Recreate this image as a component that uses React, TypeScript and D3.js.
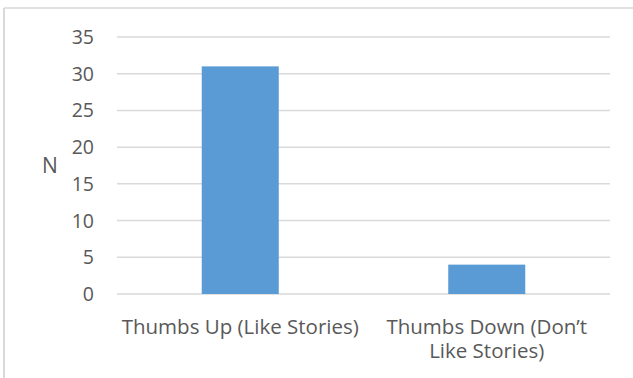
import React from "react";
import * as d3 from "d3";

// Survey responses: count of participants per rating
const categories: string[] = ["Thumbs Up (Like Stories)", "Thumbs Down (Don’t\nLike Stories)"];
const counts: number[] = [31, 4];
const yTicks: number[] = [0, 5, 10, 15, 20, 25, 30, 35];
const yTitle = "N";

const W = 633;
const H = 378;
const plot = { left: 117, right: 610, top: 37, bottom: 294 };

const FONT = "'Open Sans', Lato, sans-serif";
const TEXT = "#595959";
const GRID = "#d9d9d9";
const BAR = "#5B9BD5";

export default function App() {
  const x = d3
    .scaleBand<string>()
    .domain(categories)
    .range([plot.left, plot.right])
    .paddingInner(0.6876)
    .paddingOuter(0.3438);

  const y = d3.scaleLinear().domain([0, 35]).range([plot.bottom, plot.top]);

  return (
    <svg
      width={W}
      height={H}
      style={{ position: "absolute", left: 0, top: 0, background: "#fff" }}
      fontFamily={FONT}
    >
      {/* chart frame */}
      <line x1={4} x2={W} y1={8} y2={8} stroke={GRID} strokeWidth={1.5} />
      <line x1={4} x2={4} y1={8} y2={H} stroke={GRID} strokeWidth={2} />

      {/* gridlines and y tick labels */}
      {yTicks.map((t) => (
        <g key={t}>
          <line
            x1={plot.left}
            x2={plot.right}
            y1={y(t)}
            y2={y(t)}
            stroke={GRID}
            strokeWidth={1.5}
          />
          <text
            x={94}
            y={y(t)}
            dy="0.36em"
            textAnchor="end"
            fontSize={19.5}
            fill={TEXT}
          >
            {t}
          </text>
        </g>
      ))}

      {/* axis title */}
      <text
        x={50}
        y={(plot.top + plot.bottom) / 2}
        dy="0.36em"
        textAnchor="middle"
        fontSize={21}
        fill={TEXT}
      >
        {yTitle}
      </text>

      {/* bars */}
      {categories.map((c, i) => (
        <rect
          key={c}
          x={x(c)}
          y={y(counts[i])}
          width={x.bandwidth()}
          height={y(0) - y(counts[i])}
          fill={BAR}
        />
      ))}

      {/* category labels */}
      {categories.map((c) => {
        const cx = (x(c) as number) + x.bandwidth() / 2;
        return (
          <text key={c} x={cx} y={334} textAnchor="middle" fontSize={20.5} fill={TEXT}>
            {c.split("\n").map((line, j) => (
              <tspan key={j} x={cx} dy={j === 0 ? 0 : 24}>
                {line}
              </tspan>
            ))}
          </text>
        );
      })}
    </svg>
  );
}
